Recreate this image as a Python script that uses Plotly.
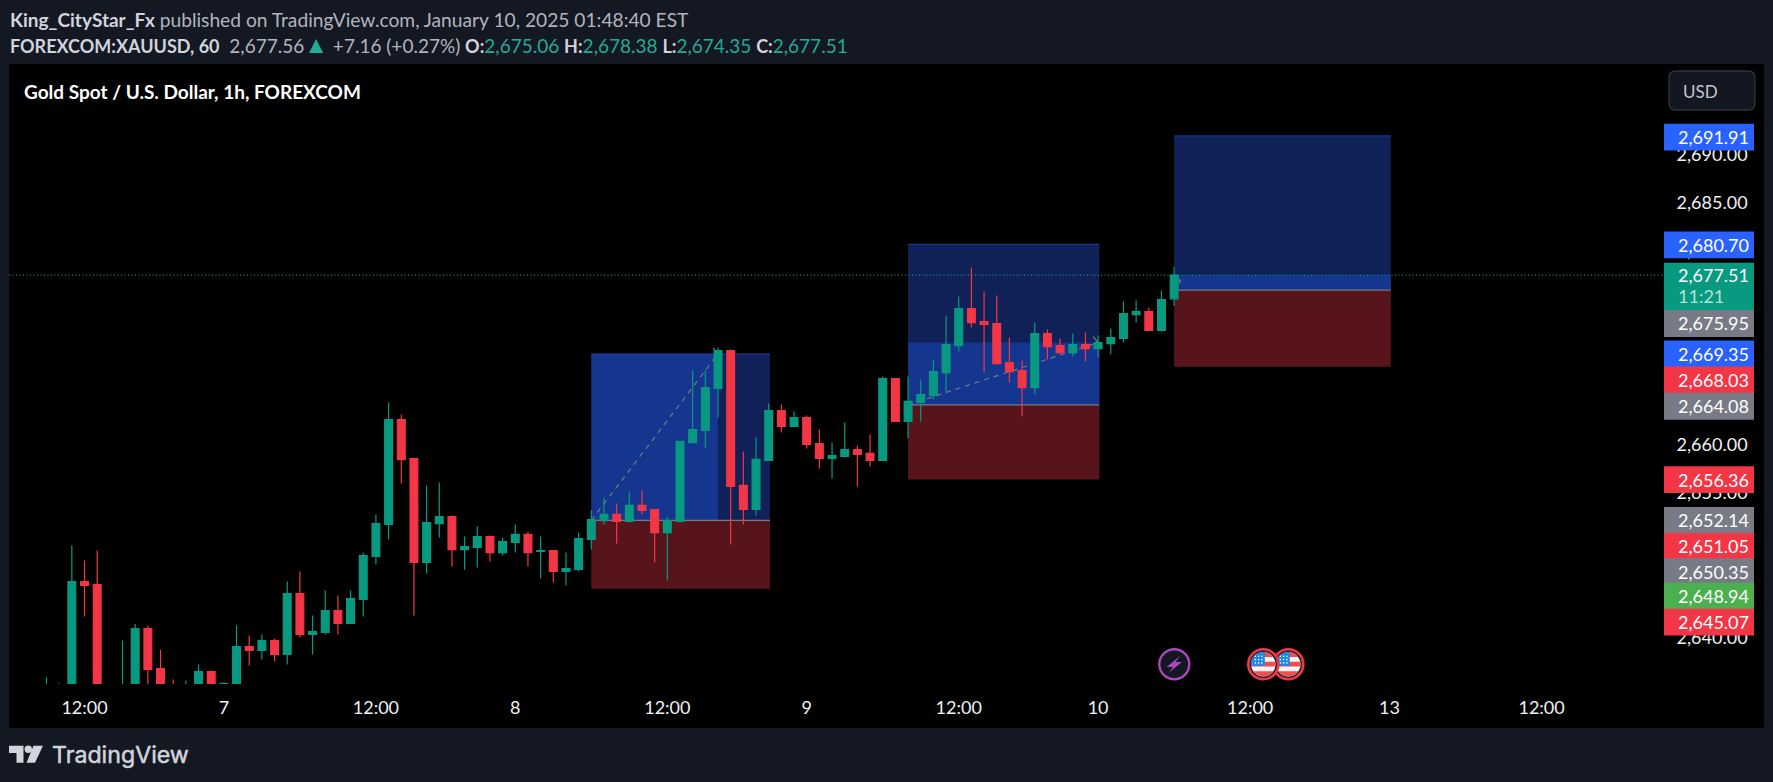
import numpy as np
import plotly.graph_objects as go

W, H = 1773, 782
PANE_L, PANE_R, PANE_T, PANE_B = 9, 1664, 64, 684
OUT_R, OUT_B = 1764, 728

opens = [2633.0,2633.5,2632.5,2645.81,2645.50,2631.5,2632.6,2634.0,2640.95,2636.81,2634.6,2633.5,2634.5,2636.50,2635.0,2634.9,
2639.09,2638.68,2639.71,2638.26,2644.57,2640.33,2640.54,2642.81,2641.47,2643.95,2648.40,2651.71,2662.57,2658.54,2647.78,2651.81,
2652.54,2649.12,2649.33,2650.47,2648.81,2649.85,2650.68,2648.92,2649.02,2646.85,2647.06,2650.16,2652.12,2652.75,2652.02,2653.68,
2653.26,2650.88,2652.02,2660.19,2661.44,2665.78,2669.71,2655.75,2653.26,2658.33,2663.50,2661.85,2662.78,2660.09,2658.54,2658.75,
2659.47,2659.06,2658.33,2666.81,2662.37,2664.33,2665.06,2667.43,2670.22,2674.05,2672.71,2672.50,2668.46,2667.64,2665.88,2671.46,
2670.22,2669.50,2670.33,2669.91,2670.43,2670.95,2673.43,2673.74,2671.78,2675.06]
highs = [2635.88,2635.30,2649.54,2647.99,2649.02,2634.6,2639.71,2641.43,2641.26,2638.78,2635.68,2635.57,2637.23,2636.50,2635.40,2641.26,
2640.23,2640.33,2639.92,2645.81,2646.85,2642.30,2644.88,2644.37,2644.88,2648.81,2652.74,2664.33,2663.09,2658.54,2655.74,2656.05,
2652.64,2650.47,2651.50,2650.57,2650.37,2651.71,2650.99,2650.47,2649.02,2648.81,2650.88,2653.16,2654.50,2653.88,2655.12,2655.23,
2653.26,2652.54,2660.30,2667.64,2667.64,2670.02,2669.81,2659.26,2660.71,2664.23,2664.12,2663.40,2662.99,2661.54,2660.19,2662.26,
2659.88,2661.02,2667.02,2666.81,2667.02,2666.71,2668.68,2673.33,2675.29,2678.29,2675.81,2675.40,2671.05,2668.67,2672.60,2671.88,
2670.95,2671.46,2671.57,2671.26,2671.98,2674.78,2674.88,2674.15,2675.91,2678.38]
lows = [2632.5,2632.8,2631.8,2642.19,2631.0,2630.8,2632.0,2633.0,2633.5,2633.5,2633.0,2633.0,2634.0,2634.0,2634.5,2634.6,
2637.12,2637.74,2637.54,2637.23,2640.02,2638.26,2640.33,2640.33,2641.47,2642.19,2647.57,2650.16,2655.95,2642.30,2646.64,2650.37,
2647.37,2647.05,2647.26,2647.88,2648.50,2648.81,2647.37,2646.12,2645.71,2645.40,2646.85,2649.12,2651.71,2649.75,2651.92,2652.75,
2647.78,2645.92,2651.92,2660.19,2659.57,2662.78,2649.64,2651.71,2652.64,2658.33,2661.23,2661.85,2659.57,2657.50,2656.47,2658.64,
2655.64,2657.71,2658.33,2662.37,2660.61,2662.37,2664.64,2665.36,2669.60,2672.09,2667.43,2668.26,2666.40,2662.88,2665.15,2668.78,
2669.29,2669.09,2668.57,2668.98,2669.29,2670.53,2672.60,2671.78,2671.67,2674.35]
closes = [2634.5,2634.6,2645.81,2645.40,2632.0,2632.8,2634.4,2640.95,2636.71,2634.2,2633.8,2634.5,2636.50,2634.4,2635.26,2639.09,
2638.68,2639.71,2638.26,2644.57,2640.33,2640.64,2642.81,2641.47,2644.05,2648.50,2651.81,2662.57,2658.43,2647.78,2651.92,2652.54,
2649.12,2649.43,2650.47,2648.81,2649.95,2650.68,2648.81,2649.02,2646.85,2647.16,2650.26,2652.23,2652.75,2652.02,2653.68,2653.16,
2650.88,2652.12,2660.30,2661.54,2665.88,2669.71,2655.64,2653.26,2658.44,2663.50,2661.85,2662.78,2659.99,2658.54,2658.85,2659.47,
2658.95,2658.33,2666.81,2662.37,2664.44,2665.16,2667.54,2670.33,2674.05,2672.60,2672.40,2668.36,2667.53,2665.88,2671.46,2670.12,
2669.50,2670.33,2669.91,2670.53,2671.05,2673.53,2673.74,2671.78,2674.98,2677.51]

time_tick_pos = [3, 14, 26, 37, 49, 60, 72, 83, 95, 106, 118]
time_tick_labels = ["12:00", "7", "12:00", "8", "12:00", "9", "12:00", "10", "12:00", "13", "12:00"]
price_ticks = [2640, 2645, 2650, 2655, 2660, 2665, 2670, 2675, 2680, 2685, 2690]

# long position tools: start, end, target, entry, stop, filled-until, filled-to price, path end
pos_start = [43, 68, 89]
pos_end = [57.1, 83.1, 106.1]
pos_target = [2669.35, 2680.70, 2691.91]
pos_entry = [2652.14, 2664.08, 2675.95]
pos_stop = [2645.07, 2656.36, 2668.03]
pos_fill_end = [53, 83.1, 106.1]
pos_fill_top = [2669.35, 2670.53, 2677.51]
pos_path_end = [53, 83, 89.5]
pos_path_top = [2669.35, 2670.53, 2676.9]

tag_values = [2691.91, 2680.70, 2677.51, 2675.95, 2669.35, 2668.03, 2664.08, 2656.36, 2652.14, 2651.05, 2650.35, 2648.94, 2645.07]
tag_colors = ["#2962ff", "#2962ff", "#089981", "#787b86", "#2962ff", "#f23645", "#787b86", "#f23645", "#787b86", "#f23645", "#787b86", "#4caf50", "#f23645"]
tag_nudge = [-1.3, -0.5, 0, -33.3, 0, -13.1, -1.3, 0, 0, -15.6, -34.1, -44.9, -33.5]

BG = "#131823"
GREEN = "#089981"
RED = "#f23645"
TXT = "#eef0f4"
FONT = "Lato, 'Noto Sans', sans-serif"

PX_PER_BAR = 12.67
X0_PX = 46.5
xr = [(PANE_L - X0_PX) / PX_PER_BAR, (PANE_R - X0_PX) / PX_PER_BAR]
yr = [2635.21, 2699.35]

fx = lambda x: x / W
fy = lambda y: 1 - y / H

shapes = []
annots = []


def poly(pts, fill, line=None, lw=0, layer="above"):
    path = "M " + " L ".join(f"{fx(x):.5f},{fy(y):.5f}" for x, y in pts) + " Z"
    shapes.append(dict(type="path", xref="paper", yref="paper", path=path, fillcolor=fill,
                       line=dict(color=line or fill, width=lw), layer=layer))


def circle(cx, cy, r, fill, line=None, lw=0):
    shapes.append(dict(type="circle", xref="paper", yref="paper", x0=fx(cx - r), x1=fx(cx + r), y0=fy(cy + r), y1=fy(cy - r),
                       fillcolor=fill, line=dict(color=line or fill, width=lw), layer="above"))


def text(x, y, s, size=17, color=TXT, anchor="left", family=FONT):
    annots.append(dict(xref="paper", yref="paper", x=fx(x), y=fy(y), text=s, showarrow=False, xanchor=anchor, yanchor="middle",
                       align="left", borderpad=0, font=dict(size=size, color=color, family=family)))


def clip_circle(cx, cy, r, x0, x1, y0, y1):
    t = np.linspace(0, 2 * np.pi, 49)[:-1]
    pts = list(zip(cx + r * np.cos(t), cy + r * np.sin(t)))
    for axis, lim, keep_gt in [(0, x0, True), (0, x1, False), (1, y0, True), (1, y1, False)]:
        out = []
        for i, p in enumerate(pts):
            q = pts[i - 1]
            pin = p[axis] >= lim if keep_gt else p[axis] <= lim
            qin = q[axis] >= lim if keep_gt else q[axis] <= lim
            if pin != qin:
                k = (lim - q[axis]) / (p[axis] - q[axis])
                out.append((q[0] + k * (p[0] - q[0]), q[1] + k * (p[1] - q[1])))
            if pin:
                out.append(p)
        pts = out
    return pts


# black panel behind everything
shapes.append(dict(type="rect", xref="paper", yref="paper", x0=fx(PANE_L), x1=fx(OUT_R), y0=fy(OUT_B), y1=fy(PANE_T),
                   fillcolor="#000000", line=dict(width=0), layer="below"))

# position tools
for s, e, tp, en, sl, fe, ft, pe, pt in zip(pos_start, pos_end, pos_target, pos_entry, pos_stop, pos_fill_end, pos_fill_top, pos_path_end, pos_path_top):
    shapes.append(dict(type="rect", xref="x", yref="y", x0=s, x1=e, y0=en, y1=tp, fillcolor="#0f2157", line=dict(width=0), layer="below"))
    shapes.append(dict(type="rect", xref="x", yref="y", x0=s, x1=fe, y0=en, y1=ft, fillcolor="#15368f", line=dict(width=0), layer="below"))
    shapes.append(dict(type="rect", xref="x", yref="y", x0=s, x1=e, y0=sl, y1=en, fillcolor="#57151b", line=dict(width=0), layer="below"))
    shapes.append(dict(type="line", xref="x", yref="y", x0=s, x1=e, y0=tp, y1=tp, line=dict(color="#1c3fa6", width=1), layer="below"))
    shapes.append(dict(type="line", xref="x", yref="y", x0=s, x1=e, y0=en, y1=en, line=dict(color="#787b86", width=1.3), layer="below"))
    shapes.append(dict(type="line", xref="x", yref="y", x0=s, x1=pe, y0=en, y1=pt,
                       line=dict(color="#787b86", width=1.2, dash="5px,5px"), layer="below"))
    shapes.append(dict(type="path", xref="x", yref="y", xsizemode="pixel", ysizemode="pixel", xanchor=pe, yanchor=pt,
                       path="M -5,6 L 0,0 L -5,-6", line=dict(color="#787b86", width=1.2), layer="below"))

# last price line
shapes.append(dict(type="line", xref="x", yref="y", x0=xr[0], x1=xr[1], y0=closes[-1], y1=closes[-1],
                   line=dict(color=GREEN, width=1.2, dash="1px,2.5px"), layer="below"))

# price tags on the scale
for v, c, n in zip(tag_values, tag_colors, tag_nudge):
    top, bot = 13.4, -13.4
    if v == closes[-1]:
        top, bot = 12.3, -35.4
    shapes.append(dict(type="rect", xref="paper", yref="y", x0=fx(PANE_R), x1=fx(1754), ysizemode="pixel", yanchor=v,
                       y0=bot + n, y1=top + n, fillcolor=c, line=dict(width=0), layer="above"))
    annots.append(dict(xref="paper", yref="y", x=fx(1675.5), y=v, yshift=n, text=f"{v:,.2f}", showarrow=False, xanchor="left",
                       yanchor="middle", font=dict(size=18, color="#ffffff", family=FONT)))
annots.append(dict(xref="paper", yref="y", x=fx(1675.5), y=closes[-1], yshift=-21, text="11:21", showarrow=False, xanchor="left",
                   yanchor="middle", font=dict(size=18, color="#b5e0d6", family=FONT)))

# USD button
r = 7
x0b, x1b, y0b, y1b = fx(1669), fx(1755), fy(110), fy(71)
rx, ry = r / W, r / H
shapes.append(dict(type="path", xref="paper", yref="paper", layer="above", fillcolor="#131722", line=dict(color="#2f333d", width=1.3),
                   path=f"M {x0b + rx},{y0b} L {x1b - rx},{y0b} Q {x1b},{y0b} {x1b},{y0b + ry} L {x1b},{y1b - ry} Q {x1b},{y1b} {x1b - rx},{y1b} "
                        f"L {x0b + rx},{y1b} Q {x0b},{y1b} {x0b},{y1b - ry} L {x0b},{y0b + ry} Q {x0b},{y0b} {x0b + rx},{y0b} Z"))
text(1681.5, 91, "USD", 17, "#c3c6ce")

# event icons
circle(1174.3, 664.3, 15, "#131722", "#ab47bc", 2.4)
poly([(1180, 656), (1166.5, 667), (1173, 667), (1168.5, 673), (1182, 662), (1175.5, 662)], "#ab47bc")


def flag(cx, cy):
    circle(cx, cy, 15, "#1e222d", "#f23645", 2.6)
    R = 12.2
    circle(cx, cy, R, "#f5f5f5")
    for a, b in [(-12.5, -7.3), (-2.5, 2.2), (7, 12.5)]:
        poly(clip_circle(cx, cy, R, cx - R, cx + R, cy + a, cy + b), "#f04f4f")
    poly(clip_circle(cx, cy, R, cx - R, cx + 1.5, cy - R, cy + 1.5), "#1e88e5")
    for dx in (-8, -4.7, -1.4):
        for dy in (-8, -4.7, -1.4):
            circle(cx + dx, cy + dy, 0.8, "#ffffff")


flag(1288.3, 664.3)
flag(1263.3, 664.3)

# header
MUTED = "#b2b5be"
LT = "#d1d4dc"
TEAL = "#22ab94"
B18 = "font-size:18px;font-weight:bold"
text(9, 19, f"<span style='font-size:19px;font-weight:bold'>King_CityStar_Fx</span> <span style='color:{MUTED}'>published on TradingView.com, January 10, 2025 01:48:40 EST</span>", 19.2, LT)
text(9, 44, f"<span style='{B18}'>FOREXCOM:XAUUSD, 60</span>&#160;&#160;<span style='color:{MUTED}'>2,677.56</span>"
            f"<span style='color:{TEAL};font-size:24px'>▲</span> <span style='color:{MUTED}'>+7.16 (+0.27%)</span> "
            f"<span style='{B18}'>O:</span><span style='color:{TEAL}'>2,675.06</span>&#160;<span style='{B18}'>H:</span><span style='color:{TEAL}'>2,678.38</span>&#160;"
            f"<span style='{B18}'>L:</span><span style='color:{TEAL}'>2,674.35</span>&#160;<span style='{B18}'>C:</span><span style='color:{TEAL}'>2,677.51</span>", 19, LT)
text(23, 91, "<b>Gold Spot / U.S. Dollar, 1h, FOREXCOM</b>", 19, "#ffffff")

# logo
LOGO = "#d1d4dc"
poly([(9, 745.7), (23.5, 745.7), (23.5, 762.7), (16.5, 762.7), (16.5, 753), (9, 753)], LOGO)
circle(28.3, 749.3, 3.7, LOGO)
poly([(33.5, 745.7), (43, 745.7), (35, 762.7), (26.5, 762.7)], LOGO)
text(51, 754.5, f"<span style='stroke:{LOGO};stroke-width:0.5px'>TradingView</span>", 23.2, LOGO, family="Inter, Lato, sans-serif")

fig = go.Figure(go.Candlestick(
    x=list(range(len(opens))), open=opens, high=highs, low=lows, close=closes,
    increasing=dict(line=dict(color=GREEN, width=1.2), fillcolor=GREEN),
    decreasing=dict(line=dict(color=RED, width=1.2), fillcolor=RED),
    whiskerwidth=0, hoverinfo="skip", showlegend=False,
))

fig.update_layout(
    width=W, height=H, autosize=False, margin=dict(l=0, r=0, t=0, b=0),
    paper_bgcolor=BG, plot_bgcolor="#000000", showlegend=False,
    boxgap=0.385, boxgroupgap=0, dragmode=False,
    shapes=shapes, annotations=annots,
    xaxis=dict(domain=[fx(PANE_L), fx(PANE_R)], range=xr, type="linear", rangeslider=dict(visible=False),
               showgrid=False, zeroline=False, showline=False, tickmode="array", tickvals=time_tick_pos, ticktext=time_tick_labels,
               ticks="outside", ticklen=7, tickcolor="rgba(0,0,0,0)", tickfont=dict(size=18, color=TXT, family=FONT), fixedrange=True),
    yaxis=dict(domain=[fy(PANE_B), fy(PANE_T)], range=yr, side="right", showgrid=False, zeroline=False, showline=False,
               tickmode="array", tickvals=price_ticks, ticktext=[f"{v:,.2f}" for v in price_ticks],
               ticks="outside", ticklen=8, tickcolor="rgba(0,0,0,0)", tickfont=dict(size=18, color=TXT, family=FONT), fixedrange=True),
)

fig.write_html("out.html", config=dict(displayModeBar=False),
               post_script="document.body.style.margin='0';document.body.style.overflow='hidden';")
